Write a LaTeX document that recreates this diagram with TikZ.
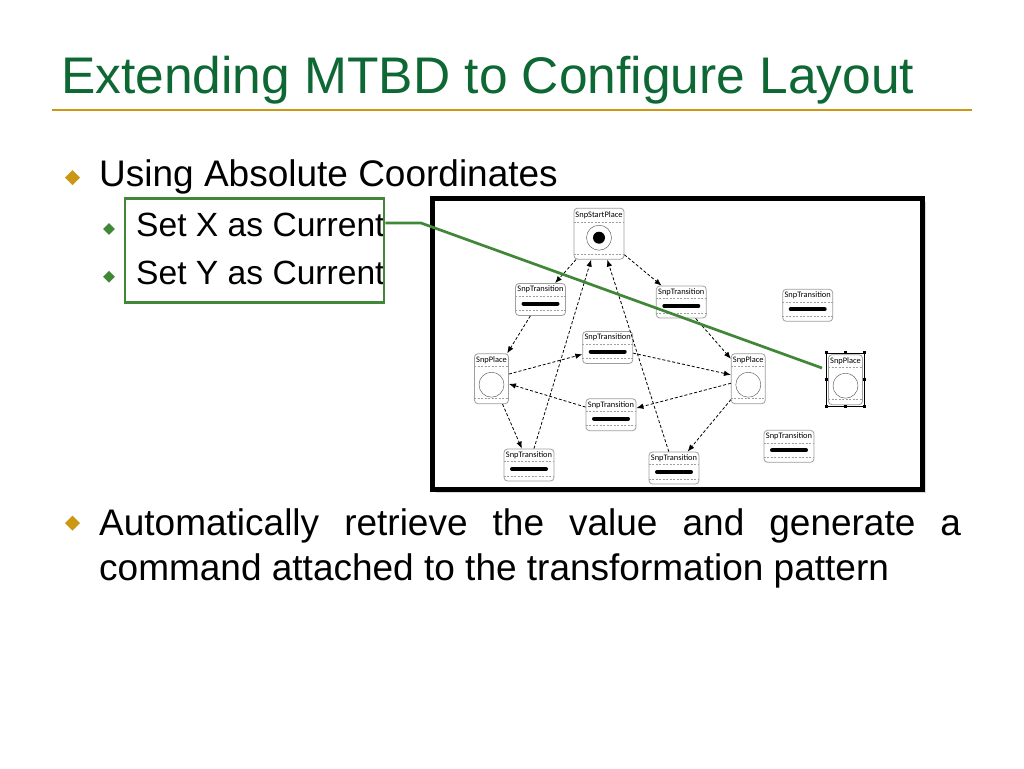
\documentclass[tikz,border=0pt]{standalone}
\usepackage{fontspec}
\setmainfont{Liberation Sans}
\newfontfamily\snpfont{Carlito}
\usetikzlibrary{arrows.meta,shadows}
\definecolor{titleGreen}{RGB}{14,104,52}
\definecolor{lineGold}{RGB}{204,152,20}
\definecolor{markGreen}{RGB}{64,136,56}
\colorlet{boxGray}{gray!75}
\NewDocumentCommand\DrawBullet{O{lineGold}mmm}%
{%
\fill[#1] ({#2},{#3}) +(-#4,0) -- +(0,-#4) -- +(#4,0) -- +(0,#4) -- cycle;%
}
\NewDocumentCommand\DrawTrans{mmm}%
{%
\node[snpbox,minimum width=50,minimum height=32] (#1) at ({#2},{#3}) {};%
\node[snplabel] at ([yshift=-6.5pt]#1.north) {SnpTransition};%
\draw[snpsep] ([yshift=-13pt]#1.north west) -- ([yshift=-13pt]#1.north east);%
\draw[line width=4pt,line cap=round] ([shift={(-17pt,-4pt)}]#1.center) -- ([shift={(17pt,-4pt)}]#1.center);%
\draw[snpsep] ([yshift=5.5pt]#1.south west) -- ([yshift=5.5pt]#1.south east);%
}
\NewDocumentCommand\DrawPlace{mmm}%
{%
\node[snpbox,minimum width=34,minimum height=50] (#1) at ({#2},{#3}) {};%
\node[snplabel] at ([yshift=-6.5pt]#1.north) {SnpPlace};%
\draw[snpsep] ([yshift=-13pt]#1.north west) -- ([yshift=-13pt]#1.north east);%
\draw[black!70] ([yshift=-6pt]#1.center) circle (12.5pt);%
\draw[snpsep] ([yshift=5.5pt]#1.south west) -- ([yshift=5.5pt]#1.south east);%
}
\NewDocumentCommand\DrawStart{mmm}%
{%
\node[snpbox,minimum width=50,minimum height=51] (#1) at ({#2},{#3}) {};%
\node[snplabel] at ([yshift=-7pt]#1.north) {SnpStartPlace};%
\draw[snpsep] ([yshift=-14pt]#1.north west) -- ([yshift=-14pt]#1.north east);%
\draw[black!70] ([yshift=-4pt]#1.center) circle (12.5pt);%
\fill ([yshift=-4pt]#1.center) circle (6pt);%
\draw[snpsep] ([yshift=5.5pt]#1.south west) -- ([yshift=5.5pt]#1.south east);%
}

\begin{document}
\begin{tikzpicture}[x=1pt,y=-1pt,
  snpbox/.style={draw=boxGray,fill=white,rounded corners=3.5pt,inner sep=0pt,line width=0.8pt},
  snplabel/.style={font=\snpfont\fontsize{8.4}{9}\selectfont,inner sep=0pt,text=black},
  snpsep/.style={boxGray,dash pattern=on 2pt off 1.5pt,line width=0.5pt},
  conn/.style={draw,dash pattern=on 3pt off 2pt,line width=0.8pt,-{Latex[length=7pt,width=5.5pt]}},
  lvlone/.style={anchor=base west,inner sep=0pt,font=\fontsize{37}{44}\selectfont},
  lvltwo/.style={anchor=base west,inner sep=0pt,font=\fontsize{33.6}{40}\selectfont}]
\useasboundingbox[fill=white] (0,0) rectangle (1024,768);
% title
\node[anchor=base west,inner sep=0pt,text=titleGreen,font=\fontsize{51.5}{60}\selectfont] (title) at (61,93) {Extending MTBD to Configure Layout};
\draw[lineGold,line width=2.5] (52,110) -- (972,110);
% bullets
\DrawBullet{72.5}{177.5}{7.5}
\node[lvlone] (using) at (99,186) {Using Absolute Coordinates};
\DrawBullet[markGreen]{109}{229}{5.8}
\node[lvltwo] (setx) at (136,236.5) {Set X as Current};
\DrawBullet[markGreen]{109}{276.7}{5.8}
\node[lvltwo] (sety) at (136,284.5) {Set Y as Current};
\DrawBullet{72.5}{523}{7.5}
\node[lvlone] (autoA) at (99,535) {\makebox[862pt][s]{Automatically retrieve the value and generate a}};
\node[lvlone] (autoB) at (99,580) {command attached to the transformation pattern};
% screenshot
\node[draw,fill=white,line width=5,minimum width=490,minimum height=291,inner sep=0pt,
  drop shadow={shadow xshift=3pt,shadow yshift=-3pt,fill=gray!55}] (frame) at (677.5,344) {};
\DrawStart{start}{599}{233.7}
\DrawTrans{t1}{540.5}{299.5}
\DrawTrans{t2}{681.3}{302}
\DrawTrans{t3}{807.7}{305.3}
\DrawTrans{t4}{607.7}{347.5}
\DrawPlace{pl}{491.5}{378.7}
\DrawPlace{pr}{748.3}{378.7}
\DrawPlace{psel}{845.5}{379.7}
\DrawTrans{t5}{611}{414.7}
\DrawTrans{t6}{529}{465}
\DrawTrans{t7}{674}{468}
\DrawTrans{t8}{789}{446.3}
\draw[black,line width=0.5pt] ([shift={(-1.5pt,1.5pt)}]psel.north west) rectangle ([shift={(1.5pt,-1.5pt)}]psel.south east);
\foreach \a/\dx/\dy in {north west/-1.5/1.5,north/0/1.5,north east/1.5/1.5,east/1.5/0,
  south east/1.5/-1.5,south/0/-1.5,south west/-1.5/-1.5,west/-1.5/0}
  \fill ([shift={(\dx pt,\dy pt)}]psel.\a) +(-1.6,-1.6) rectangle +(1.6,1.6);
\draw[conn] (start) -- (t1);
\draw[conn] (start) -- (t2);
\draw[conn] (t1) -- (pl);
\draw[conn] (t2) -- (pr);
\draw[conn] (pl) -- (t4);
\draw[conn] (t4) -- (pr);
\draw[conn] (pr) -- (t5);
\draw[conn] (t5) -- (pl);
\draw[conn] (pl) -- (t6);
\draw[conn] (pr) -- (t7);
\draw[conn] (t6) -- (start);
\draw[conn] (t7) -- (start);
% selection marker
\node[draw=markGreen,line width=2.7,minimum width=259,minimum height=104,inner sep=0pt] (setbox) at (254.5,250.3) {};
\coordinate (kink) at (421,223);
\coordinate (pick) at (822,368);
\draw[markGreen,line width=2.7] (setbox.east |- kink) -- (kink) -- (pick);
\end{tikzpicture}
\end{document}
